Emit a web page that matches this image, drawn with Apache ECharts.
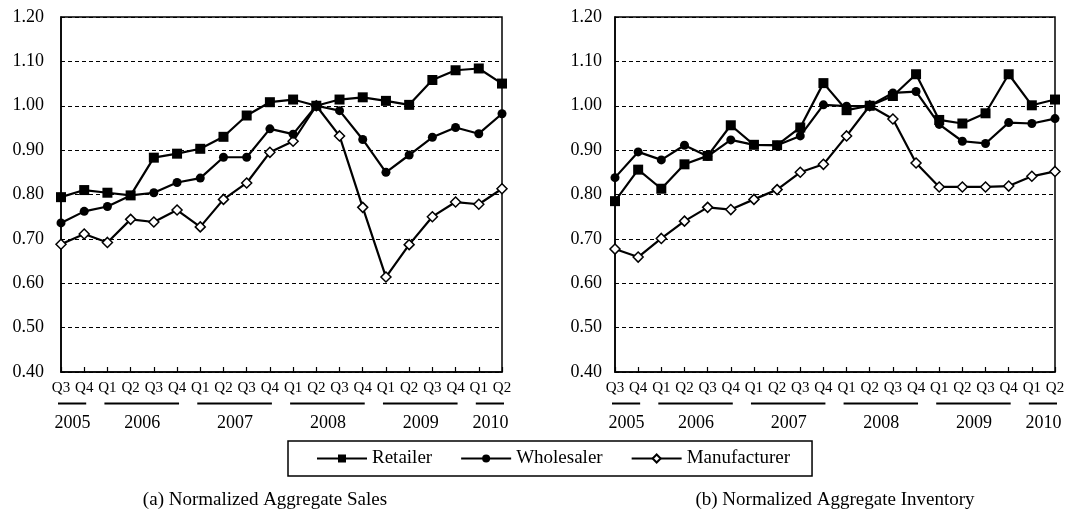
<!DOCTYPE html>
<html>
<head>
<meta charset="utf-8">
<script src="https://cdn.jsdelivr.net/npm/echarts@6/dist/echarts.min.js"></script>
<style>
html,body{margin:0;padding:0;background:#fff;}
#chart{width:1070px;height:514px;}
</style>
</head>
<body>
<div id="chart"></div>
<script>
// ---- data ----
const quarters = ['Q3','Q4','Q1','Q2','Q3','Q4','Q1','Q2','Q3','Q4','Q1','Q2','Q3','Q4','Q1','Q2','Q3','Q4','Q1','Q2'];
const yearLabels = ['2005','2006','2007','2008','2009','2010'];
const yearStart = [0, 2, 6, 10, 14, 18];
const yearEnd = [1, 5, 9, 13, 17, 19];
const seriesNames = ['Retailer','Wholesaler','Manufacturer'];
const captions = ['(a) Normalized Aggregate Sales', '(b) Normalized Aggregate Inventory'];
const yTicks = { min: 0.4, max: 1.2, step: 0.1 };

const salesRetailer = [0.794,0.810,0.804,0.798,0.883,0.892,0.903,0.930,0.978,1.008,1.014,1.000,1.014,1.019,1.011,1.002,1.058,1.080,1.084,1.050];
const salesWholesaler = [0.736,0.762,0.773,0.798,0.804,0.827,0.837,0.884,0.884,0.948,0.936,1.000,0.989,0.924,0.850,0.889,0.929,0.951,0.937,0.982];
const salesManufacturer = [0.688,0.711,0.692,0.744,0.738,0.765,0.727,0.789,0.826,0.895,0.920,1.000,0.932,0.771,0.614,0.687,0.750,0.783,0.778,0.813];

const invRetailer = [0.785,0.856,0.813,0.868,0.887,0.956,0.912,0.911,0.951,1.051,0.990,1.000,1.022,1.071,0.968,0.960,0.983,1.071,1.001,1.014];
const invWholesaler = [0.838,0.896,0.878,0.911,0.886,0.923,0.912,0.911,0.932,1.002,0.999,1.000,1.029,1.032,0.958,0.920,0.915,0.962,0.960,0.971];
const invManufacturer = [0.677,0.659,0.701,0.740,0.771,0.766,0.789,0.811,0.850,0.868,0.932,1.000,0.970,0.871,0.817,0.817,0.817,0.819,0.841,0.852];

// ---- chart ----
const FONT = '"Liberation Serif", "Times New Roman", serif';
const chart = echarts.init(document.getElementById('chart'), null, {renderer: 'canvas'});

const grids = [
  {left: 61, top: 17, width: 441, height: 355},
  {left: 615, top: 17, width: 440, height: 355}
];
const yMargins = [17, 13];

function xAxis(i) {
  return {
    type: 'category', gridIndex: i, data: quarters, boundaryGap: false,
    axisLine: {show: true, lineStyle: {color: '#000', width: 1.5}},
    axisTick: {show: true, inside: true, length: 5, alignWithLabel: true, interval: 0, lineStyle: {color: '#000', width: 1.2}},
    axisLabel: {interval: 0, margin: 9, fontFamily: FONT, fontSize: 15, color: '#000'},
    splitLine: {show: false}
  };
}
function yAxis(i) {
  return {
    type: 'value', gridIndex: i, min: yTicks.min, max: yTicks.max, interval: yTicks.step,
    axisLine: {show: true, lineStyle: {color: '#000', width: 1.5}},
    axisTick: {show: false},
    axisLabel: {margin: yMargins[i], fontFamily: FONT, fontSize: 18, color: '#000',
      formatter: v => v.toFixed(2)},
    splitLine: {show: true, lineStyle: {color: '#000', width: 1, type: [4, 3]}}
  };
}
const symbolDefs = [
  {symbol: 'rect', size: 10, fill: '#000'},
  {symbol: 'circle', size: 9, fill: '#000'},
  {symbol: 'diamond', size: 10, fill: '#fff'}
];
function mkSeries(name, idx, data, gi) {
  const s = symbolDefs[idx];
  return {
    name: name, type: 'line', xAxisIndex: gi, yAxisIndex: gi, data: data,
    symbol: s.symbol, symbolSize: s.size, showSymbol: true,
    lineStyle: {color: '#000', width: 2.2},
    itemStyle: {color: s.fill, borderColor: '#000', borderWidth: idx === 2 ? 1.5 : 0},
    z: 3 - idx + 2,
    animation: false
  };
}

const option = {
  backgroundColor: '#fff',
  animation: false,
  grid: grids.map(g => Object.assign({show: true, borderColor: '#000', borderWidth: 1.5, backgroundColor: 'transparent'}, g)),
  xAxis: [xAxis(0), xAxis(1)],
  yAxis: [yAxis(0), yAxis(1)],
  legend: {
    data: seriesNames,
    left: 288, top: 441,
    padding: [8, 22, 8, 28],
    borderColor: '#000', borderWidth: 1.5,
    itemWidth: 50, itemHeight: 10, itemGap: 28,
    textStyle: {fontFamily: FONT, fontSize: 19, color: '#000'},
    selectedMode: false
  },
  series: [
    mkSeries(seriesNames[0], 0, salesRetailer, 0),
    mkSeries(seriesNames[1], 1, salesWholesaler, 0),
    mkSeries(seriesNames[2], 2, salesManufacturer, 0),
    mkSeries(seriesNames[0], 0, invRetailer, 1),
    mkSeries(seriesNames[1], 1, invWholesaler, 1),
    mkSeries(seriesNames[2], 2, invManufacturer, 1)
  ]
};
chart.setOption(option);

// year underlines and labels, positioned through the axis scales
const graphics = [];
[0, 1].forEach(gi => {
  yearLabels.forEach((yl, k) => {
    const x0 = chart.convertToPixel({xAxisIndex: gi}, yearStart[k]);
    const x1 = chart.convertToPixel({xAxisIndex: gi}, yearEnd[k]);
    graphics.push({
      type: 'line', shape: {x1: x0 - 3, y1: 403.5, x2: x1 + 2, y2: 403.5},
      style: {stroke: '#000', lineWidth: 2}, silent: true
    });
    graphics.push({
      type: 'text', x: (x0 + x1) / 2, y: 423,
      style: {text: yl, fontFamily: FONT, fontSize: 18, fill: '#000', textAlign: 'center', textVerticalAlign: 'middle'},
      silent: true
    });
  });
});
const capX = [265, 835];
captions.forEach((c, i) => {
  graphics.push({
    type: 'text', x: capX[i], y: 500,
    style: {text: c, fontFamily: FONT, fontSize: 19, fill: '#000', textAlign: 'center', textVerticalAlign: 'middle'},
    silent: true
  });
});
chart.setOption({graphic: graphics});
</script>
</body>
</html>
